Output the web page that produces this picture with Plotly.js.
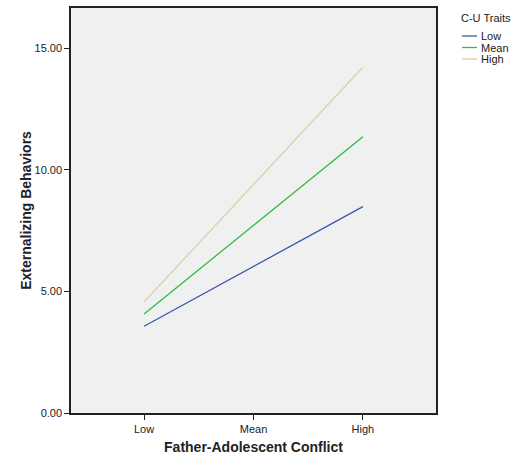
<!DOCTYPE html>
<html><head><meta charset="utf-8">
<script src="https://cdn.plot.ly/plotly-3.0.1.min.js"></script>
<style>body{margin:0;background:#fff}#c{width:511px;height:455px}</style>
</head><body><div id="c"></div>
<script>
const categories = ["Low", "Mean", "High"];
const seriesNames = ["Low", "Mean", "High"];
const lowValues = [3.57, 6.03, 8.49];
const meanValues = [4.07, 7.71, 11.36];
const highValues = [4.57, 9.40, 14.23];
const yTicks = [0, 5, 10, 15];
const yTickLabels = ["0.00", "5.00", "10.00", "15.00"];
const legendTitle = "C-U Traits";

const W = 511, H = 455;
const colors = ["#3b56b0", "#2bbd45", "#d8cfa0"];
const vals = [lowValues, meanValues, highValues];
const traces = vals.map((v, i) => ({
  x: [0, 1, 2], y: v, type: "scatter", mode: "lines", name: seriesNames[i],
  line: {color: colors[i], width: 1.3}, showlegend: false
}));

const margin = {l: 71, r: 75, t: 8, b: 42};
const pw = W - margin.l - margin.r, ph = H - margin.t - margin.b;
// convert pixel position to paper coords
const px = x => (x - margin.l) / pw;
const py = y => (H - margin.b - y) / ph;

const shapes = [], annotations = [];
annotations.push({text: legendTitle, xref: "paper", yref: "paper", x: px(459), y: py(18),
  xanchor: "left", yanchor: "middle", showarrow: false, font: {size: 11, color: "#222"}});
const rowY = [36, 47.5, 59];
seriesNames.forEach((n, i) => {
  shapes.push({type: "line", xref: "paper", yref: "paper", x0: px(462), x1: px(477),
    y0: py(rowY[i]), y1: py(rowY[i]), line: {color: colors[i], width: 1.3}});
  annotations.push({text: n, xref: "paper", yref: "paper", x: px(479), y: py(rowY[i]),
    xanchor: "left", yanchor: "middle", showarrow: false, font: {size: 11, color: "#222"}});
});

const layout = {
  width: W, height: H, margin: margin,
  paper_bgcolor: "#ffffff", plot_bgcolor: "#f0f0f0",
  font: {family: "Arial, Liberation Sans, sans-serif", color: "#222", size: 11},
  showlegend: false,
  xaxis: {range: [-0.668, 2.668], tickvals: [0, 1, 2], ticktext: categories,
    showgrid: false, zeroline: false, showline: true, linecolor: "#222", linewidth: 1.5,
    mirror: true, ticks: "outside", ticklen: 5, tickcolor: "#222", automargin: false,
    title: {text: "<b>Father-Adolescent Conflict</b>", font: {size: 14}, standoff: 8}},
  yaxis: {range: [0, 16.66], tickvals: yTicks, ticktext: yTickLabels,
    showgrid: false, zeroline: false, showline: true, linecolor: "#222", linewidth: 1.5,
    mirror: true, ticks: "outside", ticklen: 5, tickcolor: "#222", automargin: false,
    title: {text: "<b>Externalizing Behaviors</b>", font: {size: 14}, standoff: 0}},
  shapes: shapes,
  annotations: annotations
};
Plotly.newPlot("c", traces, layout, {displayModeBar: false});
</script></body></html>
